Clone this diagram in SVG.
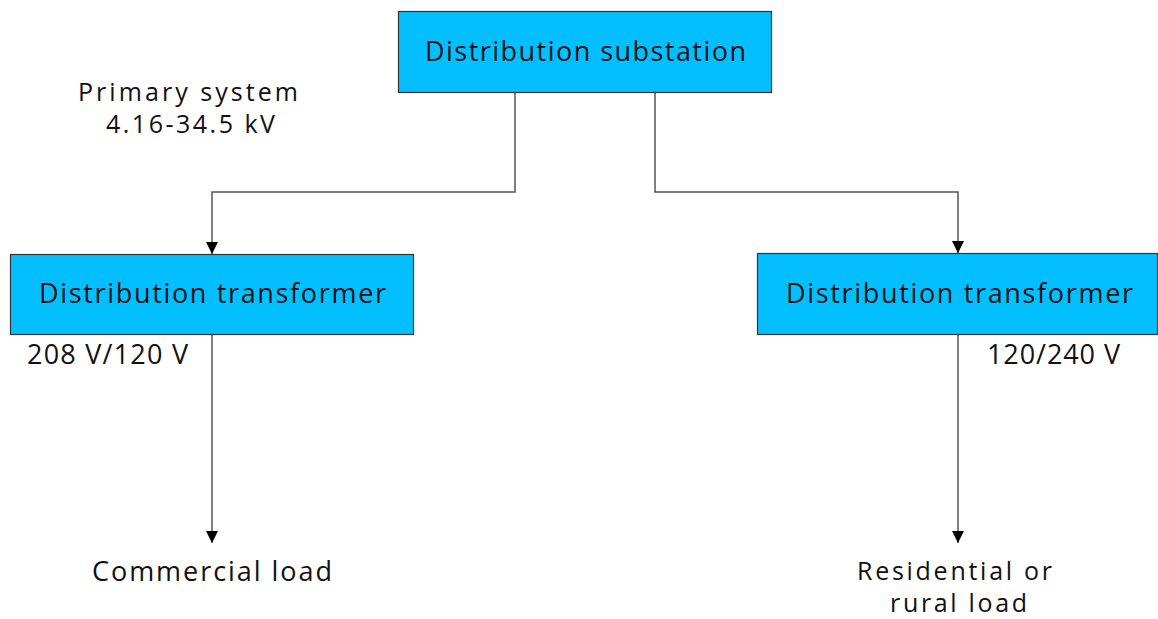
<svg xmlns="http://www.w3.org/2000/svg" width="1158" height="619" viewBox="0 0 1158 619">
<style>
.box{fill:#03bfff;stroke:#333;stroke-width:1.2}
text{font-family:"Open Sans","DejaVu Sans",sans-serif;font-size:27px;fill:#111}
.sm{font-size:25px}
.ln{fill:none;stroke:#555;stroke-width:1.5}
</style>
<defs>
<marker id="ah" markerWidth="12" markerHeight="12" refX="10" refY="5" orient="auto" markerUnits="userSpaceOnUse" viewBox="0 0 10 10">
<path d="M0,0 L10,5 L0,10 Z" fill="#000"/>
</marker>
</defs>
<rect width="1158" height="619" fill="#fff"/>
<g id="connectors">
<path class="ln" d="M515,92 V192 H212 V254" marker-end="url(#ah)"/>
<path class="ln" d="M655,92 V192 H958 V253" marker-end="url(#ah)"/>
<path class="ln" d="M212,334 V543" marker-end="url(#ah)"/>
<path class="ln" d="M958,334 V543" marker-end="url(#ah)"/>
</g>
<g id="substation">
<rect class="box" x="398.5" y="11.5" width="373" height="81"/>
<text x="425" y="61" textLength="321" lengthAdjust="spacing">Distribution substation</text>
</g>
<g id="transformer-left">
<rect class="box" x="10.5" y="254.5" width="403" height="80"/>
<text x="39" y="303" textLength="347" lengthAdjust="spacing">Distribution transformer</text>
</g>
<g id="transformer-right">
<rect class="box" x="757.5" y="253.5" width="400" height="81"/>
<text x="786" y="303" textLength="347" lengthAdjust="spacing">Distribution transformer</text>
</g>
<g id="primary-label">
<text class="sm" x="78" y="101" textLength="220" lengthAdjust="spacing">Primary system</text>
<text class="sm" x="106" y="133" textLength="169" lengthAdjust="spacing">4.16-34.5 kV</text>
</g>
<g id="label-left-voltage"><text x="27" y="364" textLength="161" lengthAdjust="spacing">208 V/120 V</text></g>
<g id="label-right-voltage"><text x="987" y="364" textLength="133" lengthAdjust="spacing">120/240 V</text></g>
<g id="commercial-load"><text x="92" y="581" textLength="240" lengthAdjust="spacing">Commercial load</text></g>
<g id="residential-load">
<text class="sm" x="857" y="580" textLength="195" lengthAdjust="spacing">Residential or</text>
<text class="sm" x="890" y="612" textLength="137" lengthAdjust="spacing">rural load</text>
</g>
</svg>
